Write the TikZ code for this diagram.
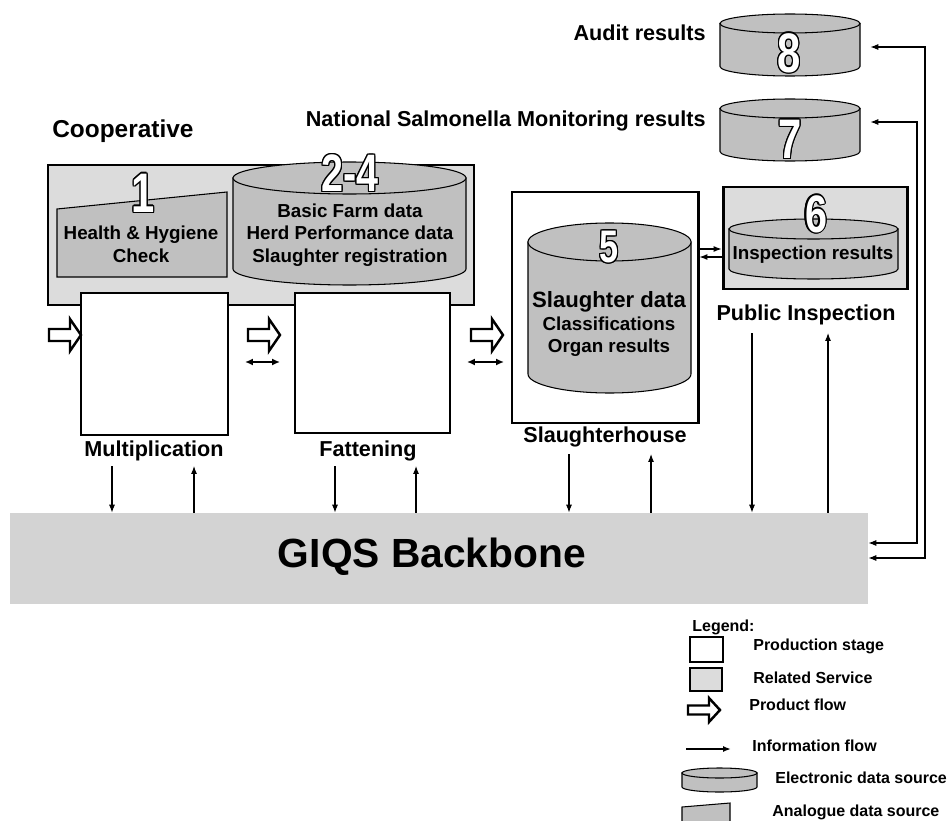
\documentclass[tikz,border=0pt]{standalone}
\usepackage{fontspec}
\setmainfont{Liberation Sans}
\usepackage{graphicx}
\usetikzlibrary{arrows.meta,calc,fit}

\definecolor{svcgray}{HTML}{DCDCDC}
\definecolor{drumgray}{HTML}{C0C0C0}
\definecolor{bbgray}{HTML}{D3D3D3}

% electronic data source: #1 name, #2 left, #3 right, #4 top, #5 bottom, #6 ellipse radius
\newcommand{\drum}[6]{%
  \path[drumline] (#2,#4+#6) -- (#2,#5-#6)
    arc[start angle=180, end angle=0, x radius={(#3-#2)/2}, y radius=#6]
    -- (#3,#4+#6) -- cycle;
  \path[drumline] ({(#2+#3)/2},#4+#6) ellipse[x radius={(#3-#2)/2}, y radius=#6];
  \node[inner sep=0, fit={(#2,#4) (#3,#5)}] (#1) {};
}

% white outlined number
\newcommand{\bignum}[4]{%
  \foreach \a in {0,30,...,330}
    \node[numtxt, font=\fontsize{#4}{#4}\selectfont\bfseries, text=black]
      at ($(#2)+(\a:1.3)$) {\scalebox{0.75}[1]{#3}};
  \node[numtxt, font=\fontsize{#4}{#4}\selectfont\bfseries, text=white]
    (#1) at (#2) {\scalebox{0.75}[1]{#3}};
}

% product flow arrow
\newcommand{\prodarrow}[2]{%
  \draw[prod, shift={(#1)}, yscale=#2]
    (-16,-6) -- (5,-6) -- (5,-16) -- (16,0) -- (5,16) -- (5,6) -- (-16,6) -- cycle;
}

\begin{document}
\begin{tikzpicture}[x=0.02cm, y=-0.02cm,
  stage/.style={draw, line width=1.7pt, fill=white, inner sep=0},
  service/.style={draw, line width=1.7pt, fill=svcgray, inner sep=0},
  drumline/.style={draw, line width=0.6pt, fill=drumgray},
  analog/.style={draw, line width=0.6pt, fill=drumgray},
  prod/.style={draw, line width=1.4pt, fill=white, line join=miter},
  info/.style={-{Latex[length=4.5pt,width=3.4pt]}, line width=0.6pt},
  infoboth/.style={{Latex[length=4.5pt,width=3.4pt]}-{Latex[length=4.5pt,width=3.4pt]}, line width=0.6pt},
  exch/.style={{Latex[length=4.5pt,width=4pt]}-{Latex[length=4.5pt,width=4pt]}, line width=1.2pt},
  lbl/.style={font=\fontsize{12.3}{14}\selectfont\bfseries, inner sep=0},
  txt/.style={font=\fontsize{10.7}{12.9}\selectfont\bfseries, align=center, inner sep=0},
  legtxt/.style={font=\fontsize{9.1}{11}\selectfont\bfseries, inner sep=0, anchor=west},
  numtxt/.style={inner sep=0},
  bigtxt/.style={font=\fontsize{23.2}{26}\selectfont\bfseries, inner sep=0}]

\useasboundingbox (0,0) rectangle (950,821);

% top right data sources
\drum{db8}{720}{860}{14}{76}{9.5}
\bignum{n8}{789,53}{8}{31.7}
\drum{db7}{720}{860}{99}{161}{9.5}
\bignum{n7}{790,139}{7}{31.7}
\node[lbl, anchor=east] (auditlbl) at (706,33) {Audit results};
\node[lbl, anchor=east] (nsmlbl) at (706,121) {National Salmonella Monitoring results};

% cooperative
\node[lbl, anchor=west, font=\fontsize{13.9}{15}\selectfont\bfseries] (cooplbl) at (52,131) {Cooperative};
\node[service, fit={(48,165) (474,305)}] (coop) {};
\path[analog] (57,277) -- (57,209) -- (227,192) -- (227,277) -- cycle;
\bignum{n1}{143,193}{1}{31.7}
\node[txt] (hh) at (141,244) {Health \& Hygiene\\Check};
\drum{db24}{233}{466}{162}{285}{16}
\bignum{n24}{350,173}{2-4}{30}
\node[txt] (farm) at (350,235) {Basic Farm data\\Herd Performance data\\Slaughter registration};

% production stages
\node[stage, fit={(81,293) (228,435)}] (mult) {};
\node[stage, fit={(295,293) (450,433)}] (fatt) {};
\node[stage, fit={(512,192) (698,423)}] (slh) {};
\node[lbl] (multlbl) at (154,451) {Multiplication};
\node[lbl] (fattlbl) at (368,451) {Fattening};
\node[lbl] (slhlbl) at (605,437) {Slaughterhouse};

\drum{db5}{528}{691}{223}{393}{19}
\bignum{n5}{609,247}{5}{26}
\node[txt] (slhdata) at (609,324) {{\fontsize{12.6}{13}\selectfont Slaughter data}\\Classifications\\Organ results};

% public inspection
\node[service, fit={(723,187) (907,289)}] (pub) {};
\drum{db6}{729}{898}{219}{279}{10}
\bignum{n6}{816,214}{6}{30}
\node[txt] (insp) at (813,255) {Inspection results};
\node[lbl] (publbl) at (806,315) {Public Inspection};

% backbone
\node[fill=bbgray, inner sep=0, fit={(10,513) (868,604)}] (giqs) {};
\node[bigtxt] (giqslbl) at (432,557) {GIQS Backbone};

% product and information flows
\prodarrow{65,335}{1}
\prodarrow{264,335}{1}
\prodarrow{487,335}{1}
\draw[exch] (245,362) -- (280,362);
\draw[exch] (467,362) -- (504,362);

\foreach \xd/\xu/\yt in {112/194/466, 335/416/466, 569/651/454, 752/828/333} {
  \draw[info] (\xd,\yt) -- (\xd,\yt |- giqs.north);
  \draw[info] (\xu,\yt |- giqs.north) -- (\xu,\yt);
}
\draw[info] (slh.east |- 0,249) -- (pub.west |- 0,249);
\draw[info] (pub.west |- 0,257) -- (slh.east |- 0,257);
\draw[infoboth] ($(db8.east |- 0,47)+(10,0)$) -| (925,558) -- (giqs.east |- 0,558);
\draw[infoboth] ($(db7.east |- 0,122)+(10,0)$) -| (917,543) -- (giqs.east |- 0,543);

% legend
\node[legtxt] (leghead) at (692,627) {Legend:};
\node[stage, line width=1.4pt, fit={(690,637) (723,662)}] (legstage) {};
\node[legtxt] (legstagetxt) at (753,646) {Production stage};
\node[service, line width=1.4pt, fit={(690,668) (722,691)}] (legsvc) {};
\node[legtxt] (legsvctxt) at (753,678) {Related Service};
\prodarrow{704,710}{0.75}
\node[legtxt] (legprodtxt) at (749,705) {Product flow};
\coordinate (leginfo) at (686,749);
\draw[info, line width=1.2pt] (leginfo) -- ++(45,0);
\node[legtxt] (leginfotxt) at (752,746) {Information flow};
\drum{legdrum}{682}{757}{768}{792}{5}
\node[legtxt] (legdrumtxt) at (775,778) {Electronic data source};
\path[analog] (682,830) -- (682,807) -- (730,803) -- (730,830);
\node[legtxt] (legantxt) at (772,812) {Analogue data source};

\end{tikzpicture}
\end{document}
